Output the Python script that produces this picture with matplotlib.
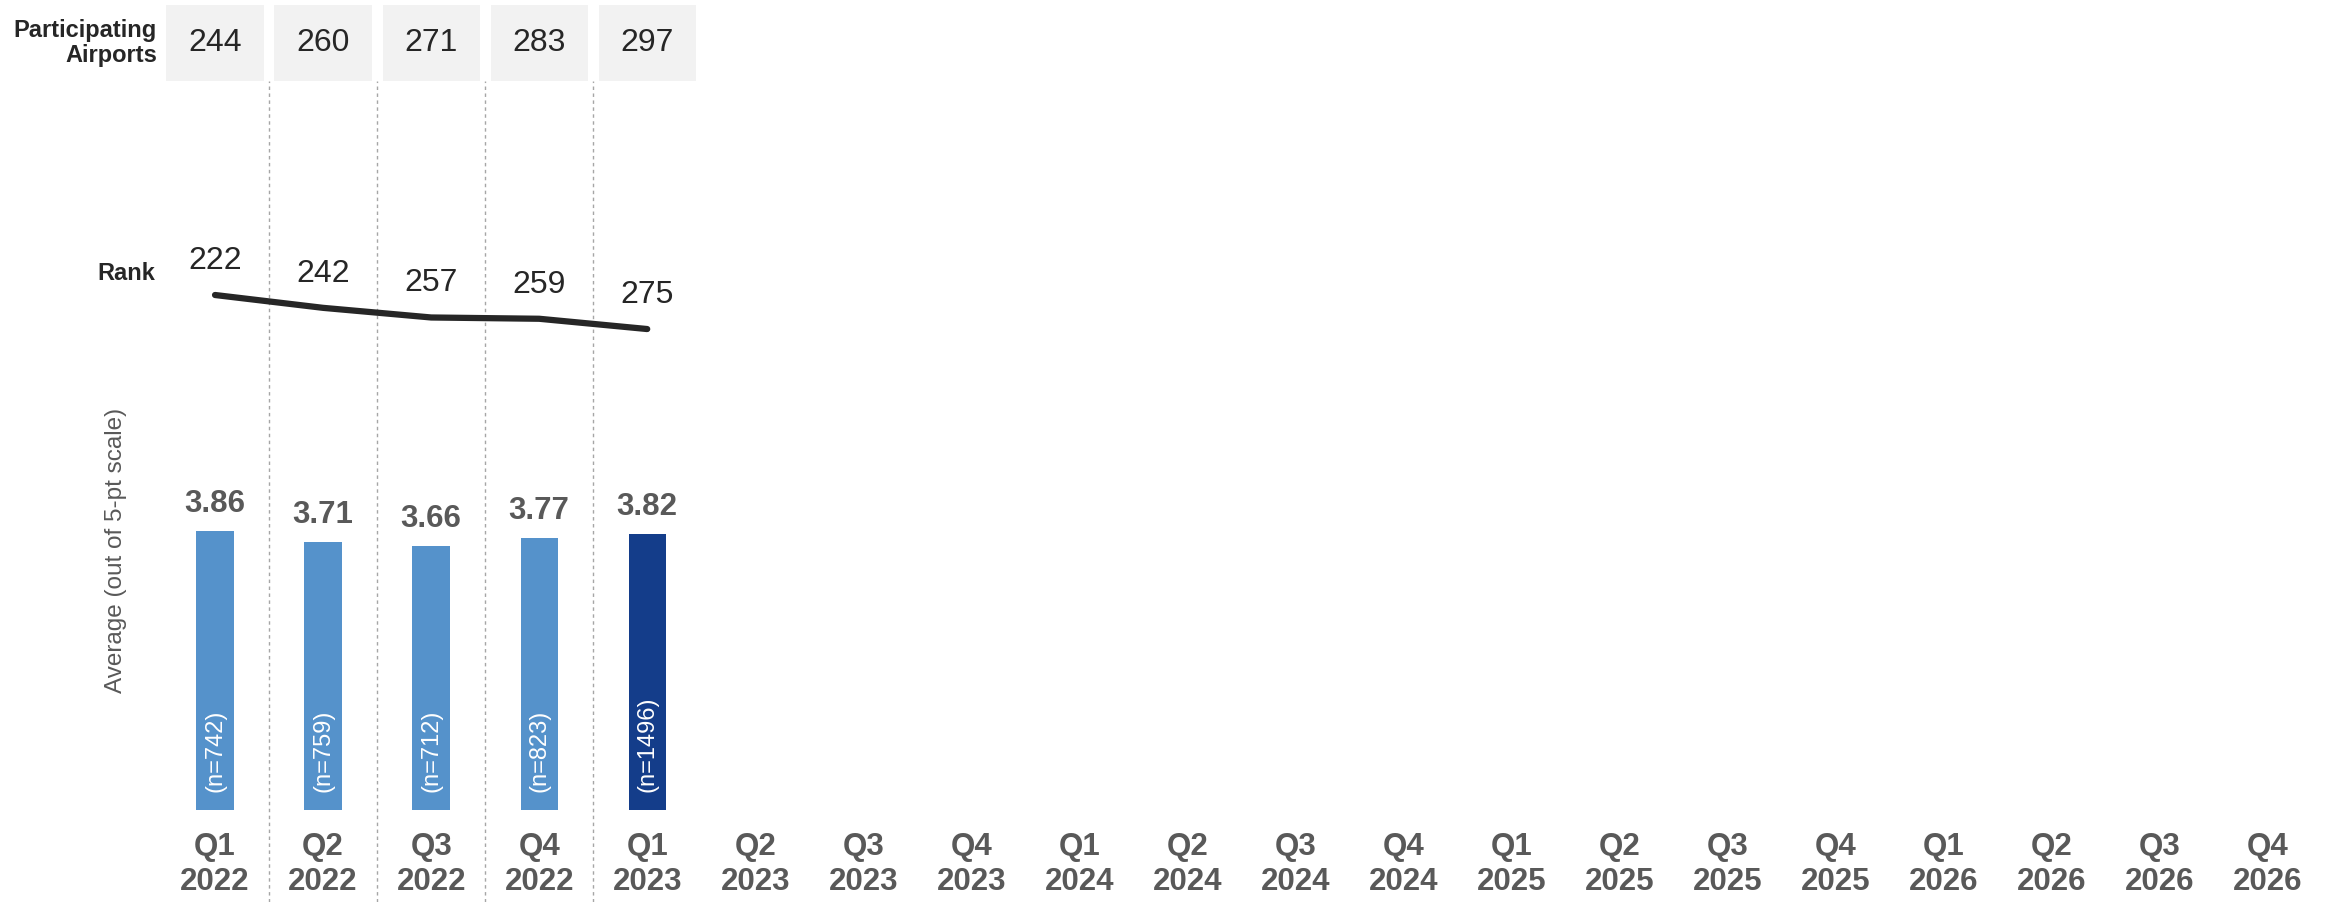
import numpy as np
import matplotlib
matplotlib.use("Agg")
import matplotlib.pyplot as plt

plt.rcParams['font.family'] = ['Liberation Sans', 'DejaVu Sans']

# data
quarters = ['Q1\n2022', 'Q2\n2022', 'Q3\n2022', 'Q4\n2022',
            'Q1\n2023', 'Q2\n2023', 'Q3\n2023', 'Q4\n2023',
            'Q1\n2024', 'Q2\n2024', 'Q3\n2024', 'Q4\n2024',
            'Q1\n2025', 'Q2\n2025', 'Q3\n2025', 'Q4\n2025',
            'Q1\n2026', 'Q2\n2026', 'Q3\n2026', 'Q4\n2026']
airports = [244, 260, 271, 283, 297]
rank = [222, 242, 257, 259, 275]
avg_score = [3.86, 3.71, 3.66, 3.77, 3.82]
n_resp = [742, 759, 712, 823, 1496]

LIGHT = '#5592CB'
DARK = '#143D8A'
GREY_TXT = '#595959'
DARK_TXT = '#262626'

W, H = 2336, 902
fig = plt.figure(figsize=(W / 100, H / 100), dpi=100)

def px_axes(top, bottom, z=1):
    left, right = 161, 2322
    ax = fig.add_axes([left / W, 1 - bottom / H, (right - left) / W, (bottom - top) / H])
    ax.set_xlim(-0.5, len(quarters) - 0.5)
    ax.set_zorder(z)
    ax.patch.set_alpha(0)
    return ax

x_all = np.arange(len(quarters))
x_data = np.arange(len(avg_score))

# background: dotted separators between filled quarters
ax_bg = px_axes(81, 902, z=0)
ax_bg.set_ylim(0, 1)
ax_bg.axis('off')
for xv in x_data[:-1] + 0.5:
    ax_bg.axvline(xv, color='#A6A6A6', lw=1.0, ls=(0, (2.5, 2.5)))

# top row: participating airports
ax_top = px_axes(5, 81)
ax_top.set_ylim(0, 1)
ax_top.axis('off')
ax_top.bar(x_data, [1] * len(airports), width=0.9, bottom=0, color='#F2F2F2')
for xi, v in zip(x_data, airports):
    ax_top.text(xi, 0.5, str(v), ha='center', va='center', fontsize=23, color=DARK_TXT)
fig.text(157 / W, 1 - 43 / H, 'Participating\nAirports', ha='right', va='center',
         fontsize=17, fontweight='bold', color=DARK_TXT, linespacing=1.15)

# rank line
ax_rank = px_axes(230, 360)
ax_rank.set_ylim(323.2, 120.8)
ax_rank.axis('off')
ax_rank.plot(x_data, rank, color=DARK_TXT, lw=4.5, solid_capstyle='round')
for xi, r in zip(x_data, rank):
    ax_rank.annotate(str(r), (xi, r), xytext=(0, 24.5), textcoords='offset points',
                     ha='center', va='center', fontsize=23, color=DARK_TXT)
fig.text(155 / W, 1 - 274 / H, 'Rank', ha='right', va='center',
         fontsize=17, fontweight='bold', color=DARK_TXT)

# bars: average score
ax_bar = px_axes(445.5, 810)
ax_bar.set_ylim(0.14, 5.0)
colors = [LIGHT] * (len(avg_score) - 1) + [DARK]
ax_bar.bar(x_data, np.array(avg_score) - 0.14, bottom=0.14, width=0.345, color=colors)
for xi, v, n in zip(x_data, avg_score, n_resp):
    ax_bar.annotate(f'{v:.2f}', (xi, v), xytext=(0, 19.5), textcoords='offset points',
                    ha='center', va='center', fontsize=22.5, fontweight='bold', color=GREY_TXT)
    ax_bar.annotate(f'(n={n})', (xi, 0.14), xytext=(0, 13), textcoords='offset points',
                    ha='center', va='bottom', rotation=90, fontsize=17, color='white')
for s in ax_bar.spines.values():
    s.set_visible(False)
ax_bar.set_yticks([])
ax_bar.set_xticks(x_all)
ax_bar.set_xticklabels(quarters, fontsize=22.5, fontweight='bold', color=GREY_TXT, linespacing=1.2)
ax_bar.tick_params(axis='x', length=0, pad=16)
fig.text(116 / W, 1 - 550 / H, 'Average (out of 5-pt scale)', rotation=90, ha='center',
         va='center', fontsize=17.5, color=GREY_TXT)

fig.savefig('out.png', dpi=100)
